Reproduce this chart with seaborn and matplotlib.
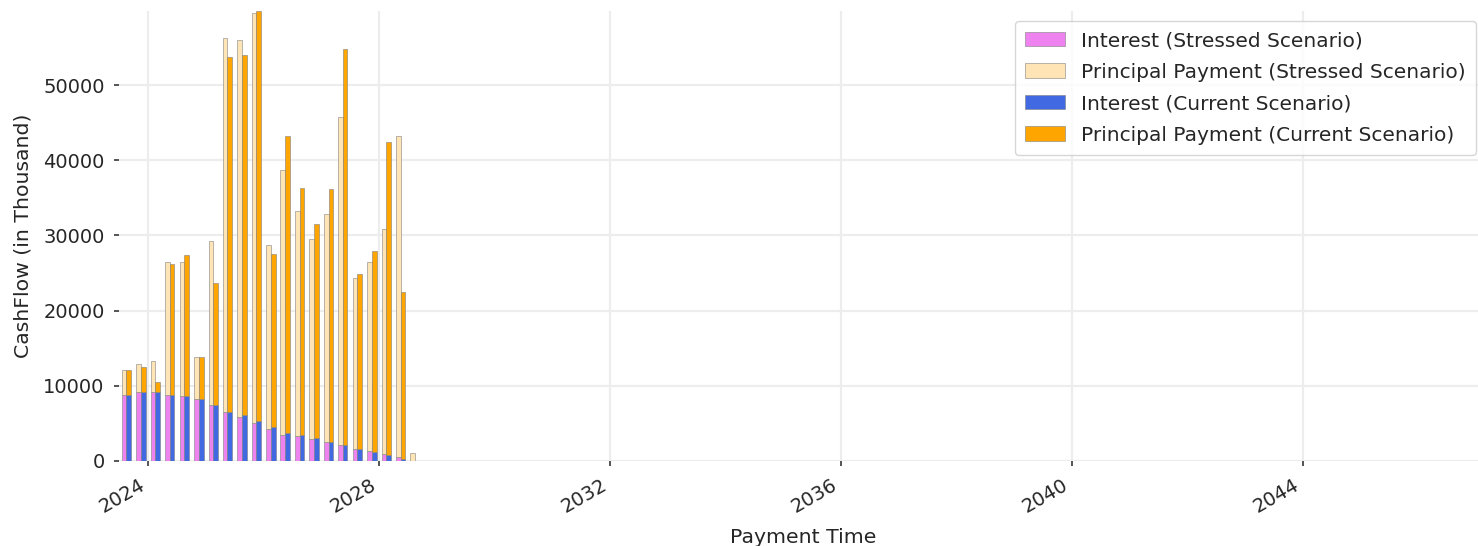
import pandas as pd
import matplotlib
matplotlib.use("Agg")
import matplotlib.pyplot as plt
import seaborn as sns

# quarterly payment dates, mid-month (stressed scenario runs one quarter longer)
dates_current = pd.date_range("2023-08-01", periods=20, freq="3MS") + pd.Timedelta(days=14)
dates_stressed = pd.date_range("2023-08-01", periods=21, freq="3MS") + pd.Timedelta(days=14)

# cashflows in thousand
interest_stressed = [8800, 9130, 9130, 8780, 8600, 8200, 7450, 6470, 5850, 5100, 4300,
                     3500, 3325, 2880, 2530, 2130, 1550, 1330, 930, 570, 60]
principal_stressed = [3300, 3730, 4130, 17720, 17820, 5670, 21810, 49830, 50100, 54520, 24430,
                      35200, 29925, 26640, 30270, 43570, 22830, 25100, 29970, 42610, 960]
interest_current = [8800, 9130, 9130, 8780, 8600, 8200, 7450, 6470, 6080, 5280,
                    4480, 3680, 3500, 3100, 2530, 2130, 1550, 1150, 750, 225]
principal_current = [3300, 3370, 1420, 17420, 18800, 5670, 16220, 47300, 47870, 54570,
                     23050, 39540, 32850, 28380, 33650, 52620, 23280, 26780, 41630, 22205]

sns.set_theme(style="whitegrid")
plt.rcParams["font.family"] = ["DejaVu Sans"]

W, H = 1478, 546
fig = plt.figure(figsize=(W / 100, H / 100), dpi=100)
ax = fig.add_axes([119 / W, 85 / H, (1488 - 119) / W, 450 / H])

bar_w = pd.Timedelta(days=30)
edge = dict(edgecolor="grey", linewidth=0.4)

'''
stressed scenario bars sit just left of each date, current scenario bars just right
'''
ax.bar(dates_stressed, interest_stressed, width=-bar_w, align="edge",
       color="violet", label="Interest (Stressed Scenario)", **edge)
ax.bar(dates_stressed, principal_stressed, width=-bar_w, align="edge", bottom=interest_stressed,
       color="moccasin", label="Principal Payment (Stressed Scenario)", **edge)
ax.bar(dates_current, interest_current, width=bar_w, align="edge",
       color="royalblue", label="Interest (Current Scenario)", **edge)
ax.bar(dates_current, principal_current, width=bar_w, align="edge", bottom=interest_current,
       color="orange", label="Principal Payment (Current Scenario)", **edge)

top = max(i + p for i, p in zip(interest_current, principal_current))
ax.set_ylim(0, top)
ax.set_xlim(pd.Timestamp("2023-06-29"), pd.Timestamp("2047-03-20"))

ax.set_title("CashFlow Comparison", fontsize=14.7, pad=10.6, color=".15")
ax.set_xlabel("Payment Time", fontsize=14.7, color=".15", labelpad=8.5)
ax.set_ylabel("CashFlow (in Thousand)", fontsize=14.7, color=".15", labelpad=7.5)

ax.grid(True, color="0.93", linewidth=1.6)
ax.tick_params(axis="both", labelsize=14, labelcolor=".15", left=True, bottom=True,
               length=3.6, width=1.1, color=".15", pad=6.8)
plt.setp(ax.get_xticklabels(), rotation=30, ha="right")
sns.despine(ax=ax, left=True, bottom=True)

ax.legend(loc="upper right", bbox_to_anchor=(1476 / W, 1 - 21 / H), bbox_transform=fig.transFigure,
          borderaxespad=0, fontsize=14.5, labelspacing=0.62, borderpad=0.5, frameon=True)

fig.savefig("out.png", dpi=100)
